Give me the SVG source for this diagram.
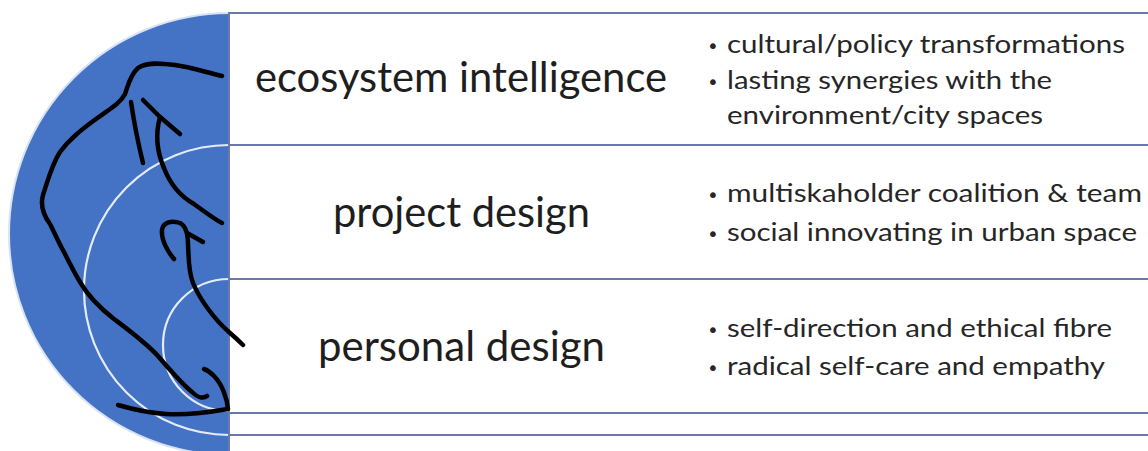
<svg xmlns="http://www.w3.org/2000/svg" width="1148" height="451" viewBox="0 0 1148 451">
  <style>
    .disc { fill: #4472c4; }
    .ring { fill: #4472c4; stroke: #e3ecf8; stroke-width: 2.2; }
    .box { fill: #ffffff; stroke: #6a79aa; stroke-width: 2; }
    .title { font-family: Lato, "Open Sans", sans-serif; font-size: 42px; fill: #1e1e1e; text-anchor: start; }
    .item { font-family: Lato, "Open Sans", sans-serif; font-size: 25px; fill: #262626; }
    .dot { font-family: "DejaVu Sans", sans-serif; font-size: 20px; fill: #262626; }
    .ink { fill: none; stroke: #000000; stroke-width: 4.5; stroke-linecap: round; stroke-linejoin: round; }
  </style>
  <defs>
    <clipPath id="leftHalf">
      <rect x="0" y="0" width="229" height="451"/>
    </clipPath>
  </defs>

  <rect width="1148" height="451" fill="#ffffff"/>

  <!-- outer ring: ecosystem intelligence -->
  <g id="node-ecosystem">
    <circle class="disc" cx="230" cy="234" r="221" stroke="#d8e4f5" stroke-width="2" clip-path="url(#leftHalf)"/>
    <rect class="box" x="229" y="13" width="940" height="442"/>
    <text class="title" x="255" y="92" textLength="412" lengthAdjust="spacingAndGlyphs">ecosystem intelligence</text>
    <text class="dot" x="707" y="53">•</text>
    <text class="item" x="727" y="53" textLength="398" lengthAdjust="spacingAndGlyphs">cultural/policy transformations</text>
    <text class="dot" x="707" y="89">•</text>
    <text class="item" x="727" y="89" textLength="325" lengthAdjust="spacingAndGlyphs">lasting synergies with the</text>
    <text class="item" x="727" y="124" textLength="316" lengthAdjust="spacingAndGlyphs">environment/city spaces</text>
  </g>

  <!-- middle ring: project design -->
  <g id="node-project">
    <circle class="ring" cx="229" cy="290" r="145" clip-path="url(#leftHalf)"/>
    <rect class="box" x="229" y="145" width="940" height="290"/>
    <text class="title" x="333" y="227" textLength="257" lengthAdjust="spacingAndGlyphs">project design</text>
    <text class="dot" x="707" y="202">•</text>
    <text class="item" x="727" y="202" textLength="415" lengthAdjust="spacingAndGlyphs">multiskaholder coalition &amp; team</text>
    <text class="dot" x="707" y="241">•</text>
    <text class="item" x="727" y="241" textLength="410" lengthAdjust="spacingAndGlyphs">social innovating in urban space</text>
  </g>

  <!-- inner ring: personal design -->
  <g id="node-personal">
    <circle class="ring" cx="229" cy="345" r="66" clip-path="url(#leftHalf)"/>
    <rect class="box" x="229" y="279" width="940" height="134"/>
    <text class="title" x="318" y="361" textLength="287" lengthAdjust="spacingAndGlyphs">personal design</text>
    <text class="dot" x="707" y="337">•</text>
    <text class="item" x="727" y="337" textLength="385" lengthAdjust="spacingAndGlyphs">self-direction and ethical fibre</text>
    <text class="dot" x="707" y="375">•</text>
    <text class="item" x="727" y="375" textLength="378" lengthAdjust="spacingAndGlyphs">radical self-care and empathy</text>
  </g>

  <!-- freehand arrows drawn over the rings -->
  <g id="connectors">
    <!-- long sweep from the outer ring down to the inner ring -->
    <path class="ink" d="M222,76 C205,72 190,67 175,65 C160,63 146,62 138,68 C130,75 128,86 125,94 C120,104 108,110 96,119 C84,128 70,138 60,152 C52,164 48,180 43,195 C40,206 44,216 50,224 C56,236 60,245 64,252 C70,264 74,272 80,282 C88,296 100,308 114,319 C130,331 145,342 158,356 C170,370 180,382 192,392 C197,397 203,399 207,396"/>
    <!-- bottom hook -->
    <path class="ink" d="M118,405 C135,410 150,413 166,414 C185,415 205,413 228,409 C227,398 222,384 214,376 C210,372 207,370 204,369"/>
    <!-- upward arrow in the outer ring -->
    <path class="ink" d="M143,100 L160,117 L180,134"/>
    <path class="ink" d="M160,117 C155,135 157,152 164,168 C170,184 180,196 194,204 C205,212 214,219 222,223"/>
    <path class="ink" d="M131,102 C134,122 138,143 143,163"/>
    <!-- upward arrow in the middle ring -->
    <path class="ink" d="M174,259 C168,252 161,240 162,230 C163,222 172,220 180,223 C186,226 188,234 188,245 C189,258 188,270 193,283 C200,300 215,320 230,333 C236,338 240,342 243,345"/>
    <path class="ink" d="M187,233 L203,242"/>
  </g>
</svg>
